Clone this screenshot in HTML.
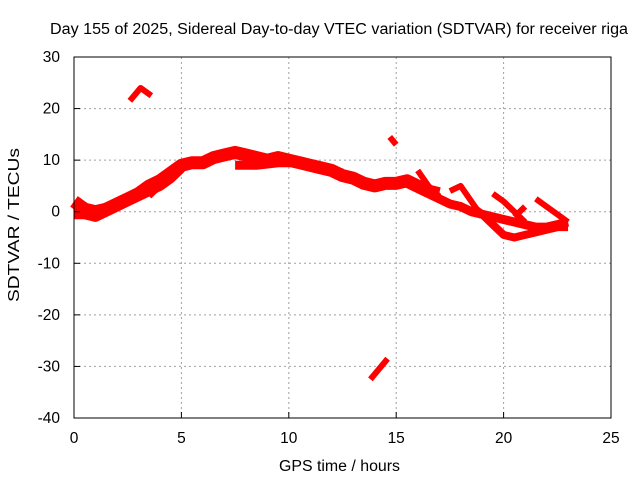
<!DOCTYPE html>
<html><head><meta charset="utf-8"><style>
body{margin:0;background:#fff}
svg text{font-family:"Liberation Sans",sans-serif;font-size:15.5px;fill:#000}
</style></head><body>
<svg id="chart" width="640" height="480" xmlns="http://www.w3.org/2000/svg">
<rect width="640" height="480" fill="#fff"/>
<g id="grid"></g>
<g id="series" fill="none" stroke="#ff0000" stroke-linecap="butt" stroke-linejoin="round"></g>
<rect x="74" y="57" width="537" height="361" fill="none" stroke="#000" stroke-width="1"/>
<g id="ticks"></g>
<text x="50" y="34" textLength="578" lengthAdjust="spacingAndGlyphs">Day 155 of 2025, Sidereal Day-to-day VTEC variation (SDTVAR) for receiver riga</text>
<text x="279" y="471" textLength="121" lengthAdjust="spacingAndGlyphs">GPS time / hours</text>
<text x="0" y="0" textLength="154" lengthAdjust="spacingAndGlyphs" transform="translate(19 302) rotate(-90)">SDTVAR / TECUs</text>
</svg>
<script>
const xTicks=[0,5,10,15,20,25];
const yTicks=[30,20,10,0,-10,-20,-30,-40];
const mainT=[0,0.5,1,1.5,2,2.5,3,3.5,4,4.5,5,5.5,6,6.5,7,7.5,8,8.5,9,9.5,10,10.5,11,11.5,12,12.5,13,13.5,14,14.5,15,15.5,16,16.5,17];
const mainV=[2,0.5,0,0.5,1.5,2.5,3.5,5,6,7.5,9,9.5,9.5,10.5,11,11.5,11,10.5,10,10.5,10,9.5,9,8.5,8,7,6.5,5.5,5,5.5,5.5,6,5,4,3.5];
const lowT=[0,0.5,1,1.5,2,2.5,3,3.5,4,4.5,5];
const lowV=[-0.5,-0.5,-1,0,1,2,3,4,5,6.5,8.5];
const midT=[7.5,8.5,9.5,10.5,11.5,12.5];
const midV=[9,9,9.5,9.5,8.5,7.5];
const tailT=[15.5,16,16.5,17,17.5,18,18.5,19,19.5,20,20.5,21,21.5,22,22.5,23];
const tailV=[5.5,4.5,3.5,2.5,1.5,1,0,-0.5,-1,-1.5,-2,-2.5,-3,-3,-2.5,-2];
const lowTailT=[18.5,19,19.5,20,20.5,21,21.5,22,22.5,23];
const lowTailV=[1,-0.5,-2.5,-4.5,-5,-4.5,-4,-3.5,-3,-3];
const branches=[
 {t:[16,16.5,17],v:[8,5,3]},
 {t:[17.5,18,18.5,19],v:[4,5,2,-1]},
 {t:[19.5,20,20.5,21],v:[3.5,2,0,-2]},
 {t:[21.5,22,22.5,23],v:[2.5,1,-0.5,-2]},
 {t:[20.5,21],v:[-1,1]},
 {t:[3.5,4,4.5],v:[3,5,6.5]},
 {t:[2.6,3.1,3.6],v:[21.5,24,22.5]},
 {t:[14.7,15],v:[14.5,13]},
 {t:[13.8,14.6],v:[-32.5,-28.5]}
];
const xs=t=>74+t*(537/25);
const ys=v=>57+(30-v)*(361/70);
const NS="http://www.w3.org/2000/svg";
const grid=document.getElementById('grid'),ticks=document.getElementById('ticks'),ser=document.getElementById('series');
function mk(tag,attrs,parent){const e=document.createElementNS(NS,tag);for(const k in attrs)e.setAttribute(k,attrs[k]);parent.appendChild(e);return e;}
xTicks.forEach(t=>{
 if(t>0&&t<25){const g=mk('line',{x1:xs(t),x2:xs(t),y1:57,y2:418,stroke:'#a0a0a0','stroke-dasharray':'2,3'},grid);
 
 }
 const l=mk('line',{x1:xs(t),x2:xs(t),y1:418,y2:412,stroke:'#000'},ticks);
 
 
 const tx=mk('text',{x:xs(t),y:443,'text-anchor':'middle'},ticks);tx.textContent=t;
 
 
});
yTicks.forEach(v=>{
 if(v<30&&v>-40){const g=mk('line',{x1:74,x2:611,y1:ys(v),y2:ys(v),stroke:'#a0a0a0','stroke-dasharray':'2,3'},grid);
 
 }
 const l=mk('line',{x1:74,x2:80,y1:ys(v),y2:ys(v),stroke:'#000'},ticks);
 
 
 const tx=mk('text',{x:60,y:ys(v)+5,'text-anchor':'end'},ticks);tx.textContent=v;
 
 
});
function line(T,V,w,name){
 const p=mk('polyline',{points:T.map((t,i)=>xs(t)+','+ys(V[i])).join(' '),'stroke-width':w},ser);
 
 
}
line(mainT,mainV,13,'series-main');
line(lowT,lowV,10,'series-low');
line(midT,midV,9,'series-mid');
line(tailT,tailV,9,'series-tail');
line(lowTailT,lowTailV,8,'series-low-tail');
branches.forEach(b=>line(b.t,b.v,6,'series-branch'));
</script>
</body></html>
